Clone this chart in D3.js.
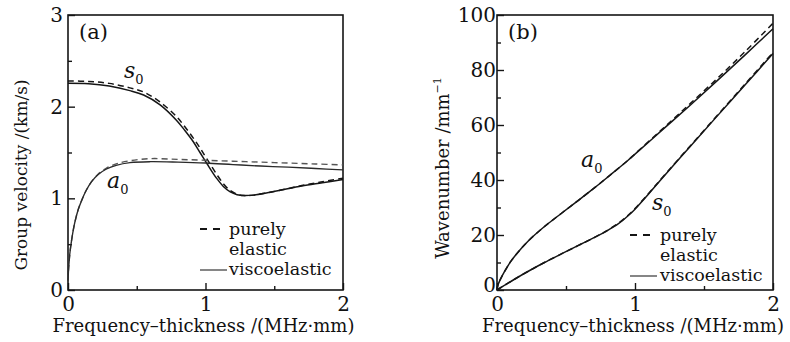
<!DOCTYPE html>
<html>
<head>
<meta charset="utf-8">
<script src="https://cdn.jsdelivr.net/npm/d3@7/dist/d3.min.js"></script>
<style>
  html, body { margin: 0; padding: 0; background: #fff; }
  svg { display: block; }
  text { font-family: "DejaVu Serif", "Liberation Serif", serif; fill: #111; }
</style>
</head>
<body>
<svg id="chart" width="790" height="342"></svg>
<script>
// ---------- Panel (a): group velocity (km/s) vs frequency-thickness (MHz·mm) ----------
const fdA0a = [0, 0.005, 0.015, 0.03, 0.05, 0.075, 0.1, 0.13, 0.17, 0.22, 0.28, 0.35, 0.45, 0.6, 0.8, 1.0, 1.2, 1.4, 1.6, 1.8, 2.0];
const a0ViscoA   = [0.1, 0.25, 0.42, 0.58, 0.74, 0.88, 0.98, 1.08, 1.18, 1.26, 1.32, 1.36, 1.39, 1.40, 1.395, 1.385, 1.368, 1.352, 1.34, 1.325, 1.31];
const a0ElasticA = [0.1, 0.25, 0.42, 0.58, 0.74, 0.88, 0.98, 1.08, 1.18, 1.265, 1.33, 1.375, 1.41, 1.433, 1.425, 1.415, 1.405, 1.395, 1.385, 1.375, 1.365];

const fdS0a = [0, 0.15, 0.3, 0.45, 0.55, 0.67, 0.79, 0.85, 0.91, 0.96, 1.01, 1.08, 1.13, 1.18, 1.23, 1.28, 1.35, 1.45, 1.55, 1.7, 1.85, 2.0];
const s0ViscoA   = [2.255, 2.25, 2.225, 2.175, 2.127, 2.02, 1.85, 1.74, 1.62, 1.50, 1.38, 1.22, 1.13, 1.07, 1.04, 1.03, 1.035, 1.06, 1.09, 1.135, 1.17, 1.205];
const s0ElasticA = [2.28, 2.275, 2.254, 2.205, 2.16, 2.05, 1.89, 1.78, 1.66, 1.55, 1.43, 1.265, 1.16, 1.085, 1.045, 1.03, 1.035, 1.06, 1.09, 1.14, 1.18, 1.22];

const yTicksA = [0, 1, 2, 3];
const yMinorA = [0.5, 1.5, 2.5];

// ---------- Panel (b): wavenumber (1/mm) vs frequency-thickness ----------
const fdA0b = [0, 0.005, 0.02, 0.05, 0.1, 0.16, 0.23, 0.34, 0.47, 0.59, 0.71, 0.83, 0.95, 1.0, 1.2, 1.4, 1.6, 1.8, 2.0];
const a0ViscoB   = [0, 1.5, 3.4, 6.3, 10.4, 14.2, 18.0, 22.9, 28.0, 32.6, 37.3, 42.2, 47.2, 49.4, 58.3, 67.2, 76.3, 85.6, 95];
const a0ElasticB = [0, 1.5, 3.4, 6.3, 10.4, 14.2, 18.0, 22.9, 28.0, 32.6, 37.3, 42.2, 47.2, 49.5, 58.6, 67.8, 77.1, 86.8, 97];

const fdS0b = [0, 0.13, 0.23, 0.34, 0.47, 0.59, 0.71, 0.8, 0.88, 0.95, 1.0, 1.1, 1.2, 1.4, 1.6, 1.8, 2.0];
const s0ViscoB   = [0, 4.0, 6.9, 9.9, 13.2, 16.2, 19.2, 21.6, 24.1, 27.0, 29.4, 35.0, 40.8, 52.2, 63.5, 74.7, 86];
const s0ElasticB = [0, 4.0, 6.9, 9.9, 13.2, 16.2, 19.2, 21.7, 24.3, 27.2, 29.6, 35.2, 41.0, 52.4, 63.7, 75.0, 86.4];

const yTicksB = [0, 20, 40, 60, 80, 100];
const yMinorB = [10, 30, 50, 70, 90];

const xTicks = [0, 1, 2];
const xMinor = [0.5, 1.5];

const xLabel = "Frequency\u2013thickness /(MHz\u00b7mm)";
const yLabelA = "Group velocity /(km/s)";
const yLabelB = "Wavenumber /mm";
const legendLabels = ["purely", "elastic", "viscoelastic"];

// ---------- drawing ----------
const svg = d3.select("#chart");
const INK = "#151515";

function panel(cfg) {
  const g = svg.append("g");
  const x = d3.scaleLinear().domain([0, 2]).range([cfg.left, cfg.right]);
  const y = d3.scaleLinear().domain(cfg.yDomain).range([290, 15]);

  // axes (inward ticks)
  const xa = g.append("g").attr("transform", "translate(0,290)")
    .call(d3.axisBottom(x).tickValues(xTicks).tickFormat(d3.format("d")).tickSize(-7).tickSizeOuter(0).tickPadding(7));
  const xm = g.append("g").attr("transform", "translate(0,290)")
    .call(d3.axisBottom(x).tickValues(xMinor).tickFormat("").tickSize(-4).tickSizeOuter(0));
  const ya = g.append("g").attr("transform", `translate(${cfg.left},0)`)
    .call(d3.axisLeft(y).tickValues(cfg.yTicks).tickFormat(d3.format("d")).tickSize(-7).tickSizeOuter(0).tickPadding(cfg.yPad));
  const ym = g.append("g").attr("transform", `translate(${cfg.left},0)`)
    .call(d3.axisLeft(y).tickValues(cfg.yMinor).tickFormat("").tickSize(-4).tickSizeOuter(0));
  [xa, xm, ya, ym].forEach(a => {
    a.select(".domain").remove();
    a.selectAll("line").attr("stroke", INK).attr("stroke-width", 1.4);
    a.selectAll("text").attr("font-size", 20).attr("font-family", "DejaVu Serif").attr("fill", INK);
  });
  if (cfg.liftZero) {
    ya.selectAll(".tick").filter(d => d === 0).select("text").attr("dy", "0.05em");
  }

  // frame
  g.append("rect").attr("x", cfg.left).attr("y", 15)
    .attr("width", cfg.right - cfg.left).attr("height", 275)
    .attr("fill", "none").attr("stroke", INK).attr("stroke-width", 1.6);

  // curves
  const line = d3.line().curve(d3.curveCatmullRom.alpha(0.5)).x(d => x(d[0])).y(d => y(d[1]));
  cfg.series.forEach(s => {
    g.append("path")
      .datum(s.x.map((v, i) => [v, s.y[i]]))
      .attr("d", line)
      .attr("fill", "none")
      .attr("stroke", s.color || INK)
      .attr("stroke-width", s.w || 1.5)
      .attr("stroke-dasharray", s.dash ? "6,4" : null);
  });

  // x label
  g.append("text").attr("x", (cfg.left + cfg.right) / 2 - 2).attr("y", 332)
    .attr("text-anchor", "middle").attr("font-size", 18).text(xLabel);

  // panel tag
  g.append("text").attr("x", cfg.left + 11).attr("y", 39).attr("font-size", 21).text(cfg.tag);

  // mode labels
  cfg.modes.forEach(m => {
    const t = g.append("text").attr("x", m.x).attr("y", m.y).attr("font-size", 22).attr("font-style", "italic");
    t.append("tspan").text(m.name);
    t.append("tspan").attr("font-size", 13).attr("font-style", "normal").attr("dy", 6).text("0");
  });

  // legend
  const L = cfg.legend;
  g.append("line").attr("x1", L.x).attr("x2", L.x + L.len).attr("y1", L.y1).attr("y2", L.y1)
    .attr("stroke", INK).attr("stroke-width", 2).attr("stroke-dasharray", "7,6");
  g.append("line").attr("x1", L.x).attr("x2", L.x + L.len + 4).attr("y1", L.y3).attr("y2", L.y3)
    .attr("stroke", "#444").attr("stroke-width", 1.3);
  legendLabels.forEach((lab, i) => {
    g.append("text").attr("x", L.tx).attr("y", L.ty[i]).attr("font-size", 17.5).text(lab);
  });
  return { g, x, y };
}

const pa = panel({
  left: 68, right: 343, yDomain: [0, 3], yTicks: yTicksA, yMinor: yMinorA, yPad: 5, tag: "(a)",
  series: [
    { x: fdS0a, y: s0ElasticA, dash: true },
    { x: fdS0a, y: s0ViscoA },
    { x: fdA0a, y: a0ElasticA, dash: true, color: "#555", w: 1.4 },
    { x: fdA0a, y: a0ViscoA, color: "#2a2a2a", w: 1.4 }
  ],
  modes: [{ name: "s", x: 124, y: 78 }, { name: "a", x: 107, y: 188 }],
  legend: { x: 200, len: 23, y1: 229, y3: 270, tx: 229, ty: [235, 255, 275] }
});
pa.g.append("text").attr("transform", "translate(27,175) rotate(-90)")
  .attr("text-anchor", "middle").attr("font-size", 17).text(yLabelA);

const pb = panel({
  left: 497, right: 773, yDomain: [0, 100], yTicks: yTicksB, yMinor: yMinorB, yPad: 1, tag: "(b)", liftZero: true,
  series: [
    { x: fdA0b, y: a0ElasticB, dash: true },
    { x: fdA0b, y: a0ViscoB },
    { x: fdS0b, y: s0ElasticB, dash: true },
    { x: fdS0b, y: s0ViscoB }
  ],
  modes: [{ name: "a", x: 581, y: 167 }, { name: "s", x: 652, y: 210 }],
  legend: { x: 630, len: 23, y1: 235, y3: 276, tx: 660, ty: [241, 261, 281] }
});
const yb = pb.g.append("text").attr("transform", "translate(449,168) rotate(-90)")
  .attr("text-anchor", "middle").attr("font-size", 18);
yb.append("tspan").text(yLabelB);
yb.append("tspan").attr("font-size", 11).attr("dy", -8).text("\u22121");
</script>
</body>
</html>
